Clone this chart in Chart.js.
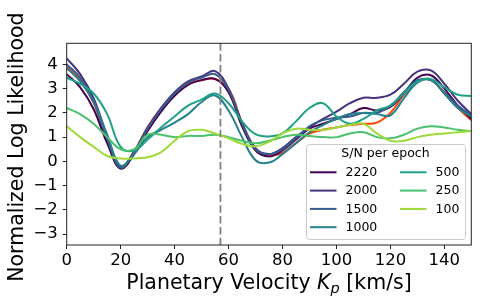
<!DOCTYPE html>
<html>
<head>
<meta charset="utf-8">
<script src="https://cdn.jsdelivr.net/npm/chart.js@4.4.1/dist/chart.umd.min.js"></script>
<style>
  html, body { margin: 0; padding: 0; background: #fff; }
  #wrap { width: 483px; height: 306px; position: relative; }
</style>
</head>
<body>
<div id="wrap"><canvas id="llChart" width="483" height="306"></canvas></div>
<script>
// Planetary velocity grid (km/s)
const KP = [0, 5, 10, 15, 20, 25, 30, 35, 40, 45, 50, 55, 60, 65, 70, 75, 80, 85, 90, 95, 100, 105, 110, 115, 120, 125, 130, 135, 140, 145, 150];

// normalized log likelihood per S/N per epoch
const LL_2220 = [3.6, 3.05, 2.15, 0.75, -0.3, 0.3, 1.25, 2.05, 2.7, 3.15, 3.35, 3.4, 2.85, 1.45, 0.45, 0.2, 0.45, 0.9, 1.35, 1.55, 1.75, 1.95, 2.2, 2.1, 2.25, 2.8, 3.45, 3.55, 3.0, 2.3, 1.75];
const LL_2000 = [4.25, 3.6, 2.6, 1.05, -0.22, 0.4, 1.4, 2.2, 2.85, 3.3, 3.5, 3.72, 3.0, 1.6, 0.55, 0.3, 0.55, 1.0, 1.4, 1.75, 2.05, 2.4, 2.62, 2.62, 2.75, 3.2, 3.7, 3.75, 3.2, 2.5, 1.95];
const LL_1500 = [4.0, 3.45, 2.45, 0.95, -0.26, 0.38, 1.35, 2.15, 2.8, 3.25, 3.45, 3.6, 2.95, 1.55, 0.5, 0.3, 0.5, 0.95, 1.45, 1.7, 1.8, 1.85, 2.0, 2.0, 2.3, 2.85, 3.35, 3.35, 2.85, 2.3, 1.9];
const LL_1000 = [3.85, 3.3, 2.45, 1.1, -0.18, 0.3, 1.0, 1.3, 1.6, 1.95, 2.45, 2.72, 2.1, 1.0, 0.05, -0.05, 0.3, 0.75, 1.2, 1.5, 1.75, 1.95, 2.0, 1.95, 1.9, 2.6, 3.25, 3.35, 2.8, 2.2, 1.85];
const LL_500 = [3.45, 3.2, 2.8, 1.95, 0.6, 0.45, 0.9, 1.4, 1.85, 2.3, 2.55, 2.8, 2.4, 1.65, 1.12, 1.03, 1.15, 1.65, 2.2, 2.4, 1.85, 1.55, 1.75, 2.1, 2.3, 2.8, 3.3, 3.4, 3.05, 2.75, 2.7];
const LL_250 = [2.2, 1.95, 1.55, 1.0, 0.5, 0.5, 1.1, 1.1, 1.0, 1.05, 1.05, 1.1, 1.0, 0.85, 0.75, 0.85, 1.0, 1.1, 1.05, 1.0, 1.0, 1.15, 1.2, 1.0, 0.95, 1.1, 1.35, 1.45, 1.4, 1.3, 1.25];
const LL_100 = [1.45, 1.0, 0.6, 0.22, 0.12, 0.12, 0.17, 0.38, 0.85, 1.25, 1.3, 1.15, 0.95, 0.72, 0.62, 0.8, 1.15, 1.35, 1.3, 1.3, 1.4, 1.5, 1.55, 1.15, 0.85, 0.85, 1.0, 1.1, 1.15, 1.2, 1.25];
// reference curve drawn underneath (not in legend)
const LL_REF = [3.9, 3.35, 2.4, 0.9, -0.25, 0.42, 1.42, 2.2, 2.8, 3.2, 3.35, 3.4, 3.0, 1.6, 0.45, 0.25, 0.35, 0.75, 1.15, 1.3, 1.4, 1.5, 1.55, 1.6, 2.0, 2.75, 3.3, 3.35, 2.8, 2.2, 1.7];

const SN_LABELS = ['2220', '2000', '1500', '1000', '500', '250', '100'];
const SN_SERIES = [LL_2220, LL_2000, LL_1500, LL_1000, LL_500, LL_250, LL_100];
const SN_COLORS = ['#440154', '#46327e', '#365c8d', '#277f8e', '#1fa187', '#4ac16d', '#a0da39'];
const REF_COLOR = '#ff4500';

const X_TICKS = [0, 20, 40, 60, 80, 100, 120, 140];
const Y_TICKS = [-3, -2, -1, 0, 1, 2, 3, 4];
const KP_MARK = 57;

const FONT = '"DejaVu Sans", "Liberation Sans", sans-serif';

function pts(arr) {
  return arr.map((v, i) => ({ x: KP[i], y: v }));
}

function initChart() {
  const canvas = document.getElementById('llChart');
  const ctx = canvas.getContext('2d');

  const datasets = SN_SERIES.map((s, i) => ({
    label: SN_LABELS[i],
    data: pts(s),
    borderColor: SN_COLORS[i],
    borderWidth: 2,
    pointRadius: 0,
    tension: 0.4,
    fill: false,
    order: SN_SERIES.length - i
  }));
  datasets.push({
    label: 'ref',
    data: pts(LL_REF),
    borderColor: REF_COLOR,
    borderWidth: 2,
    pointRadius: 0,
    tension: 0.4,
    fill: false,
    order: 20
  });

  const overlay = {
    id: 'overlay',
    afterDatasetsDraw(chart) {
      const c = chart.ctx;
      const a = chart.chartArea;
      const px = chart.scales.x.getPixelForValue(KP_MARK);
      c.save();
      c.strokeStyle = '#808080';
      c.lineWidth = 1.8;
      c.setLineDash([7.5, 3.3]);
      c.beginPath();
      c.moveTo(px, a.top);
      c.lineTo(px, a.bottom);
      c.stroke();
      c.restore();
    },
    afterDraw(chart) {
      const c = chart.ctx;
      const a = chart.chartArea;
      c.save();
      // frame
      c.strokeStyle = '#222';
      c.lineWidth = 1;
      c.strokeRect(a.left, a.top, a.right - a.left, a.bottom - a.top);

      // legend
      const bx = 306, by = 144, bw = 159, bh = 95;
      c.beginPath();
      c.roundRect(bx + 0.5, by + 0.5, bw, bh, 3);
      c.fillStyle = 'rgba(255,255,255,0.8)';
      c.fill();
      c.strokeStyle = '#cccccc';
      c.stroke();
      c.fillStyle = '#000';
      c.font = '12.5px ' + FONT;
      c.textBaseline = 'middle';
      c.textAlign = 'center';
      c.fillText('S/N per epoch', bx + bw / 2, 153.5);
      c.textAlign = 'left';
      SN_LABELS.forEach((lab, i) => {
        const col = i < 4 ? 0 : 1;
        const row = i < 4 ? i : i - 4;
        const ry = 172.3 + row * 18.3;
        const lx = col === 0 ? 310 : 400;
        c.strokeStyle = SN_COLORS[i];
        c.lineWidth = 2;
        c.beginPath();
        c.moveTo(lx, ry);
        c.lineTo(lx + 26.5, ry);
        c.stroke();
        c.fillStyle = '#000';
        c.fillText(lab, lx + 35.5, ry + 0.5);
      });

      // y title
      c.save();
      c.translate(17.5, (a.top + a.bottom) / 2 + 3);
      c.rotate(-Math.PI / 2);
      c.textAlign = 'center';
      c.textBaseline = 'middle';
      c.font = '20.5px ' + FONT;
      c.fillText('Normalized Log Likelihood', 0, 0);
      c.restore();

      // x title with italic K and subscript p
      const big = '20.5px ' + FONT;
      const bigIt = 'italic 20.5px ' + FONT;
      const subIt = 'italic 14.5px ' + FONT;
      const parts = [
        ['Planetary Velocity ', big, 0],
        ['K', bigIt, 0],
        ['p', subIt, 4],
        [' [km/s]', big, 0]
      ];
      let total = 0;
      parts.forEach(p => { c.font = p[1]; total += c.measureText(p[0]).width; });
      let tx = (a.left + a.right) / 2 - total / 2;
      const base = 289;
      c.textAlign = 'left';
      c.textBaseline = 'alphabetic';
      c.fillStyle = '#000';
      parts.forEach(p => {
        c.font = p[1];
        c.fillText(p[0], tx, base + p[2]);
        tx += c.measureText(p[0]).width;
      });
      c.restore();
    }
  };

  window.llChart = new Chart(ctx, {
    type: 'line',
    data: { datasets },
    options: {
      responsive: false,
      animation: false,
      events: [],
      layout: { padding: { left: 0, right: 11.7, top: 43.3, bottom: 0 } },
      plugins: {
        legend: { display: false },
        tooltip: { enabled: false }
      },
      scales: {
        x: {
          type: 'linear',
          min: 0,
          max: 150,
          afterBuildTicks: s => { s.ticks = X_TICKS.map(v => ({ value: v })); },
          afterFit: s => { s.height = 61; },
          grid: { drawOnChartArea: false, drawTicks: true, tickLength: 4, color: '#222' },
          border: { display: false },
          ticks: {
            color: '#000',
            padding: 2,
            maxRotation: 0,
            font: { family: FONT, size: 16.5 },
            callback: v => String(v)
          }
        },
        y: {
          type: 'linear',
          min: -3.45,
          max: 4.87,
          afterBuildTicks: s => { s.ticks = Y_TICKS.map(v => ({ value: v })); },
          afterFit: s => { s.width = 66.7; },
          grid: { drawOnChartArea: false, drawTicks: true, tickLength: 4, color: '#222' },
          border: { display: false },
          ticks: {
            color: '#000',
            padding: 5,
            font: { family: FONT, size: 16.5 },
            callback: v => (v < 0 ? '\u2212' + Math.abs(v) : String(v))
          }
        }
      }
    },
    plugins: [overlay]
  });
}

if (document.readyState === 'loading') {
  document.addEventListener('DOMContentLoaded', initChart);
} else {
  initChart();
}
</script>
</body>
</html>
